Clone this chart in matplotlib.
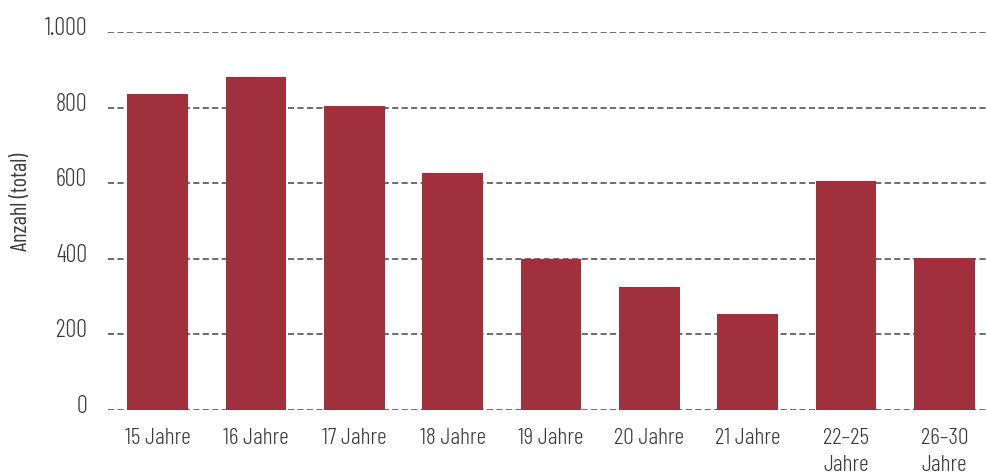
import matplotlib
matplotlib.use("Agg")
from matplotlib import pyplot as plt
from matplotlib.transforms import ScaledTranslation

# age groups and counts
categories = ["15 Jahre", "16 Jahre", "17 Jahre", "18 Jahre", "19 Jahre",
              "20 Jahre", "21 Jahre", "22\u201325\nJahre", "26\u201330\nJahre"]
counts = [836, 881, 804, 627, 399, 325, 254, 606, 402]
yticks = [0, 200, 400, 600, 800, 1000]
ytick_labels = ["0", "200", "400", "600", "800", "1.000"]

plt.rcParams['font.family'] = ['Barlow Condensed', 'DejaVu Sans']
plt.rcParams['font.weight'] = 300
text_color = '#3a3a3a'

W, H = 987, 477
fig = plt.figure(figsize=(W / 100, H / 100), dpi=100)
ax = fig.add_axes([108 / W, (H - 411) / H, (W - 108) / W, 378 / H])

x = range(len(categories))
ax.bar(x, counts, width=0.62, color='#a1303d', zorder=2)

ax.set_xlim(-0.505, len(categories) - 1 + 0.434)
ax.set_ylim(0, 1000)
ax.set_yticks(yticks)
ax.set_yticklabels(ytick_labels)
ax.set_xticks(list(x))
ax.set_xticklabels(categories, linespacing=1.4)

ax.yaxis.grid(True, linestyle=(0, (4, 2.2)), color='#444444', linewidth=1.1, zorder=1)
ax.set_axisbelow(True)
for s in ax.spines.values():
    s.set_visible(False)

ax.tick_params(axis='y', length=0, pad=15, labelsize=17.5, labelcolor=text_color)
ax.tick_params(axis='x', length=0, pad=12, labelsize=17, labelcolor=text_color)

# y labels sit a bit above their gridline
offset = ScaledTranslation(0, 0.07, fig.dpi_scale_trans)
for lab in ax.get_yticklabels():
    lab.set_transform(lab.get_transform() + offset)

ax.set_ylabel("Anzahl (total)", fontsize=16, color=text_color)
ax.yaxis.set_label_coords(-0.086, 0.553)

fig.savefig("out.png", dpi=100)
